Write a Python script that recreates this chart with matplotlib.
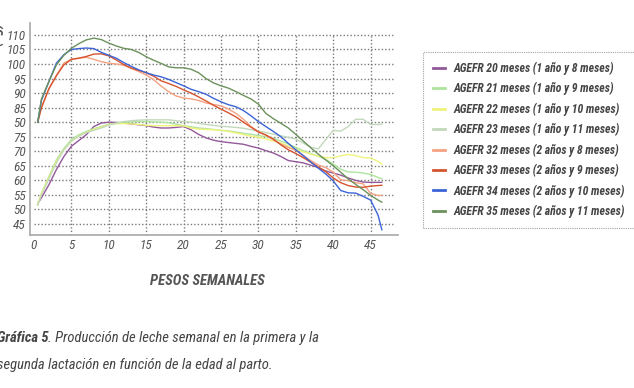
import numpy as np
import matplotlib
matplotlib.use("Agg")
import matplotlib.pyplot as plt
from matplotlib import font_manager

# buscar una fuente estrecha instalada
names = set(f.name for f in font_manager.fontManager.ttflist)
narrow = [n for n in ['Liberation Sans Narrow', 'DejaVu Sans Condensed', 'Roboto Condensed',
                      'Open Sans Condensed', 'Noto Sans Condensed'] if n in names]
cond = [f for f in font_manager.fontManager.ttflist
        if f.name == 'DejaVu Sans' and f.stretch == 'condensed']
if narrow:
    plt.rcParams['font.family'] = [narrow[0], 'DejaVu Sans']
    stretch = 'normal'
elif cond:
    plt.rcParams['font.family'] = ['DejaVu Sans']
    stretch = 'condensed'
else:
    plt.rcParams['font.family'] = ['DejaVu Sans']
    stretch = 'normal'
plt.rcParams['font.stretch'] = stretch

# semanas (eje x)
weeks = [0.5, 1, 2, 3, 4, 5, 6, 7, 8, 9, 10, 11, 12, 13, 14, 15, 16, 17, 18, 19, 20,
         21, 22, 23, 24, 25, 26, 27, 28, 29, 30, 31, 32, 33, 34, 35, 36, 37, 38, 39, 40,
         41, 42, 43, 44, 45, 46, 46.5]

agefr20 = [52, 54, 58.5, 63.7, 68.2, 71.7, 73.7, 75.7, 78.5, 79.7, 80, 79.9, 79.7, 79.4, 79.1,
           78.8, 78.3, 78, 78, 78.2, 78.5, 77.4, 75.8, 74.6, 73.8, 73.3, 73, 72.7, 72.4, 71.7,
           71.1, 70.2, 69.4, 68.2, 66.8, 66.4, 66, 65.2, 64.4, 63.2, 62.5, 61.8, 60.8, 60, 59.4,
           59.3, 59.3, 59.3]
agefr21 = [51.5, 55.5, 61.4, 67, 71, 74, 75.7, 76.8, 77.8, 78.5, 79.3, 79.7, 80, 80.1, 80.2,
           80.2, 80.1, 80, 79.8, 79.3, 78.8, 78.4, 78, 77.8, 77.5, 77.2, 77, 76.6, 76.2, 75.8,
           75.4, 75, 74.5, 73.5, 72.5, 71.3, 70.2, 69.2, 68.3, 67.2, 65.6, 63.8, 62.9, 62.8, 62.5,
           62, 61, 60.5]
agefr22 = [52, 55.5, 61, 66.5, 70.5, 73.5, 75.3, 76.5, 77.5, 78.3, 79.2, 79.5, 79.5, 79.4, 79.2,
           78.9, 78.8, 78.8, 78.8, 78.8, 78.7, 78, 77.6, 77.5, 77.4, 77.2, 76.8, 76.3, 75.7, 75.2,
           74.8, 74.2, 73.5, 72.8, 71.8, 70.6, 69.8, 69, 68.3, 67.8, 67.8, 68.4, 68.9, 68.5, 67.8,
           67.7, 66.5, 65.6]
agefr23 = [51.5, 55, 60.5, 66, 70.5, 73.5, 75.2, 76.4, 77.2, 78, 79, 79.6, 80.2, 80.5, 80.7,
           80.8, 80.8, 80.8, 80.8, 80.5, 80.2, 80, 79.6, 79.2, 78.9, 78.6, 78.4, 78.2, 77.9, 77.4,
           76.9, 76.4, 75.9, 75.3, 74.8, 74.2, 72.8, 71.4, 70.8, 74, 77.2, 76.9, 78.5, 81, 81,
           79.2, 79.2, 79.3]
agefr32 = [80, 85, 91.5, 96, 100.3, 101.6, 102, 102.3, 101.6, 100.8, 100.3, 100, 99.6, 98.5, 97.4,
           96.2, 94.6, 92.4, 90.5, 89, 88.3, 88, 87.5, 86.6, 86.1, 85.6, 84.5, 83, 81, 78.5,
           76.8, 75.5, 73.9, 72.5, 71.3, 70.3, 68.5, 66.8, 65.3, 64.4, 62.8, 60.2, 59.9, 59.2, 58.8,
           55.5, 54.8, 54.8]
agefr33 = [80, 85, 91.5, 96, 99.7, 101.6, 102, 102.6, 103.4, 103.5, 102.8, 101.4, 99.8, 98.6, 97.8,
           97, 95.8, 94.2, 93.3, 92.3, 91.1, 90, 88.7, 87.3, 85.8, 84.5, 83.2, 81.8, 80, 78.3,
           76.6, 75.6, 74.2, 72.2, 70.5, 69.2, 67.8, 66.2, 64.6, 63, 60.8, 59.2, 58.2, 57.7, 57.6,
           58, 58.2, 58.3]
agefr34 = [80, 87.5, 94, 100.3, 103.2, 105, 105.3, 105.5, 105.3, 104, 103, 102, 100.5, 99.2, 98,
           97, 96.2, 95.6, 94.7, 93.6, 92.5, 91.3, 90.5, 89.6, 88.2, 87, 86, 85.3, 84, 82.2,
           80.2, 78.5, 76.8, 75, 72.7, 70.5, 68.5, 66.3, 64.2, 62.2, 59.8, 56.5, 55.7, 55.6, 54.5,
           53.2, 48, 43]
agefr35 = [80, 88, 94, 99.7, 103, 105.4, 107, 108.3, 108.9, 108.4, 107.2, 106.2, 105.4, 105, 104,
           102.5, 101.3, 100.2, 99, 98.7, 98.7, 98.2, 97, 95, 93.5, 92.5, 91.7, 90.5, 89.2, 88,
           86.2, 83, 81.2, 79.6, 78, 75.8, 73.5, 71.2, 69, 67, 65, 62.8, 60.5, 58.6, 56.8,
           54.8, 53.2, 52.5]

labels = ['AGEFR 20 meses (1 año y 8 meses)', 'AGEFR 21 meses (1 año y 9 meses)',
          'AGEFR 22 meses (1 año y 10 meses)', 'AGEFR 23 meses (1 año y 11 meses)',
          'AGEFR 32 meses (2 años y 8 meses)', 'AGEFR 33 meses (2 años y 9 meses)',
          'AGEFR 34 meses (2 años y 10 meses)', 'AGEFR 35 meses (2 años y 11 meses)']
series = [agefr20, agefr21, agefr22, agefr23, agefr32, agefr33, agefr34, agefr35]
colors = ['#93589a', '#aee49c', '#eef37a', '#c3d8bb', '#f5a283', '#d5542f', '#3c64d6', '#6c925c']

yticks = [45, 50, 55, 60, 65, 70, 75, 80, 85, 90, 95, 100, 105, 110]
# la etiqueta de 80 aparece como "50" en el original
ytick_labels = ['45', '50', '55', '60', '65', '70', '75', '50', '85', '90', '95', '100', '105', '110']
xticks = [0, 5, 10, 15, 20, 25, 30, 35, 40, 45]

fig = plt.figure(figsize=(6.34, 3.88), dpi=100)
W, H = 634.0, 388.0
ax = fig.add_axes([30 / W, 153 / H, 368 / W, 212 / H])

ax.set_xlim(-0.53, 48.66)
ax.set_ylim(41.2, 114.1)

# rejilla punteada
grid_kw = dict(color='#7a7a7a', linewidth=1.0, linestyle=(0, (1, 1.5)), zorder=1)
ax.hlines(yticks, 0, 48, **grid_kw)
ax.vlines(xticks[1:], 41.2, 110, **grid_kw)

for vals, c, lab in zip(series, colors, labels):
    ax.plot(weeks, vals, color=c, linewidth=1.0, label=lab, zorder=3)

for side in ['top', 'right']:
    ax.spines[side].set_visible(False)
for side in ['left', 'bottom']:
    ax.spines[side].set_color('#a8a8a8')
    ax.spines[side].set_linewidth(1.2)

ax.set_yticks(yticks)
ax.set_yticklabels(ytick_labels)
ax.set_xticks(xticks)
ax.tick_params(length=0, labelsize=9.5, labelcolor='#555555', pad=3)
for t in ax.get_xticklabels() + ax.get_yticklabels():
    t.set_fontstyle('italic')

ax.set_xlabel('PESOS SEMANALES', fontsize=10.5, fontweight='bold', fontstyle='italic',
              color='#555555')
ax.xaxis.set_label_coords((207 - 30) / 368.0, -(281 - 235) / 212.0)
ax.xaxis.label.set_va('center')

# titulo del eje y (recortado en el original)
fig.text(-4 / W, 1 - 135 / H, 'PRODUCCIÓN DE LECHE SEMANAL (kg)', rotation=90,
         ha='center', va='center', fontsize=10.5, fontweight='bold', fontstyle='italic',
         color='#555555')

leg = ax.legend(loc='upper left', bbox_to_anchor=(423 / W, 1 - 226.7 / H, 215 / W, 175 / H),
                bbox_transform=fig.transFigure, mode='expand', frameon=True, fancybox=False,
                handlelength=1.0, handletextpad=0.7, labelspacing=0.61, borderpad=0.85,
                borderaxespad=0, prop={'size': 8.5, 'weight': 'bold', 'style': 'italic',
                                       'stretch': stretch})
leg.get_frame().set_edgecolor('#8a8a8a')
leg.get_frame().set_linestyle((0, (1, 1)))
leg.get_frame().set_linewidth(0.8)
for t in leg.get_texts():
    t.set_color('#444444')
for line in leg.get_lines():
    line.set_linewidth(2.0)

# pie de figura
cap_kw = dict(fontsize=10.5, fontstyle='italic', color='#444444', stretch=stretch)
t1 = fig.text(-3 / W, 1 - 342 / H, 'Gráfica 5', fontweight='bold', va='baseline', **cap_kw)
ax.annotate('. Producción de leche semanal en la primera y la', xy=(1, 0), xycoords=t1,
            va='bottom', ha='left', annotation_clip=False, **cap_kw)
fig.text(-3 / W, 1 - 369 / H, 'segunda lactación en función de la edad al parto.',
         va='baseline', **cap_kw)

fig.savefig('out.png', dpi=100)
